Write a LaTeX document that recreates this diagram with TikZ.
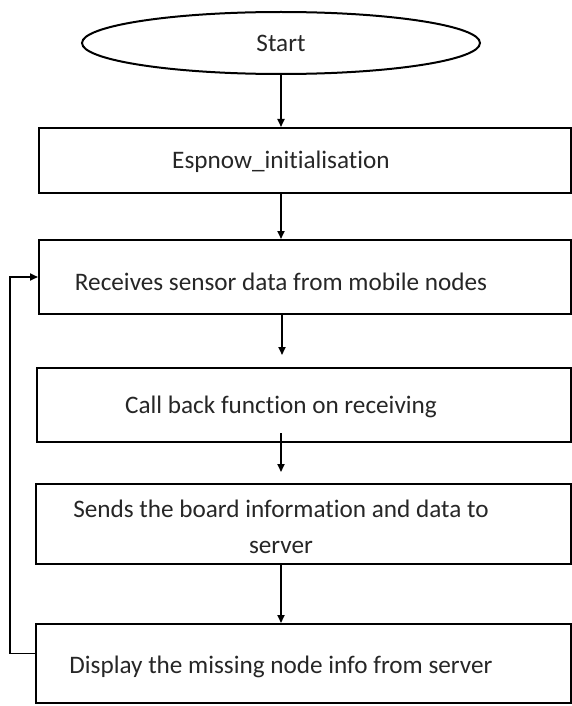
\documentclass[tikz,border=0pt]{standalone}
\usepackage{fontspec}
\setmainfont{Carlito}[Ligatures=CommonOff]
\usetikzlibrary{shapes.geometric,arrows.meta}

\tikzset{
  stepbox/.style={draw, line width=2pt, inner sep=0pt},
  steptext/.style={font=\fontsize{25.2}{36}\selectfont, text=black!85, align=center, inner sep=0pt},
  flow/.style={-{Triangle[length=8pt,width=7pt]}, line width=1.8pt},
}

\begin{document}
\begin{tikzpicture}[x=1pt, y=-1pt]
    \useasboundingbox (0,0) rectangle (572,706);
    % start
    \node[draw, ellipse, line width=2pt, minimum width=398pt, minimum height=62pt, inner sep=0pt, steptext] (start) at (281,43) {Start};
    % process boxes
    \node[stepbox, minimum width=532pt, minimum height=65pt] (init) at (305,160.5) {};
    \node[stepbox, minimum width=532pt, minimum height=74pt] (recv) at (305,277) {};
    \node[stepbox, minimum width=534pt, minimum height=74pt] (callb) at (304,405) {};
    \node[stepbox, minimum width=535pt, minimum height=80pt] (send) at (303.5,524) {};
    \node[stepbox, minimum width=535pt, minimum height=79pt] (disp) at (303.5,663.5) {};
    % labels
    \node[steptext] (initlbl) at (281,162) {Espnow\_initialisation};
    \node[steptext] (recvlbl) at (281,282) {Receives sensor data from mobile nodes};
    \node[steptext] (callblbl) at (281,407) {Call back function on receiving};
    \node[steptext] (sendlbl) at (281,527) {Sends the board information and data to\\server};
    \node[steptext] (displbl) at (281,667) {Display the missing node info from server};
    % arrows
    \coordinate (gap1) at (282,355);
    \coordinate (gap2) at (281,472);
    \draw[flow] (start.south) -- (init.north -| start.south);
    \draw[flow] (init.south -| start.south) -- (recv.north -| start.south);
    \draw[flow] (recv.south -| gap1) -- (gap1);
    \draw[flow] ([yshift=10pt]callb.south -| gap2) -- (gap2);
    \draw[flow] (send.south -| gap2) -- (disp.north -| gap2);
    % loop back
    \draw[flow] ([yshift=10pt]disp.west) -- ++(-25,0) |- (recv.west);
\end{tikzpicture}
\end{document}
